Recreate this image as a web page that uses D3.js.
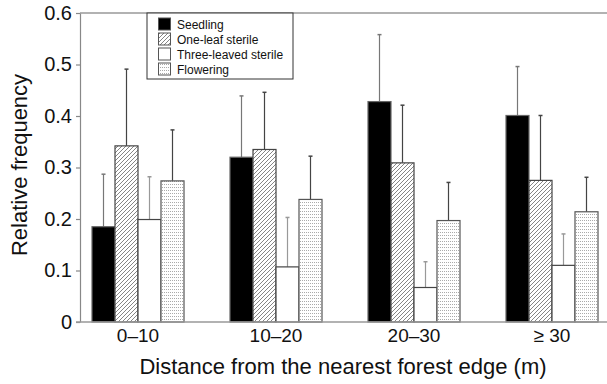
<!DOCTYPE html>
<html><head><meta charset="utf-8">
<script src="https://cdn.jsdelivr.net/npm/d3@7"></script>
<style>body{margin:0;background:#fff}svg{display:block;font-family:"Liberation Sans",Arial,sans-serif}</style>
</head><body>
<svg id="c" width="607" height="384"></svg>
<script>
const categories = ["0–10", "10–20", "20–30", "≥ 30"];
const seriesNames = ["Seedling", "One-leaf sterile", "Three-leaved sterile", "Flowering"];
const seedling = [0.185, 0.320, 0.428, 0.401];
const seedlingErr = [0.287, 0.439, 0.558, 0.496];
const oneLeaf = [0.342, 0.335, 0.309, 0.275];
const oneLeafErr = [0.491, 0.446, 0.421, 0.401];
const threeLeaved = [0.199, 0.107, 0.067, 0.110];
const threeLeavedErr = [0.282, 0.203, 0.117, 0.171];
const flowering = [0.274, 0.238, 0.197, 0.214];
const floweringErr = [0.373, 0.322, 0.271, 0.281];
const yTicks = [0, 0.1, 0.2, 0.3, 0.4, 0.5, 0.6];

const values = [seedling, oneLeaf, threeLeaved, flowering];
const errs = [seedlingErr, oneLeafErr, threeLeavedErr, floweringErr];

const svg = d3.select("#c");
const defs = svg.append("defs");
const hatch = defs.append("pattern").attr("id","hatch").attr("patternUnits","userSpaceOnUse")
  .attr("width",4).attr("height",4);
hatch.append("rect").attr("width",4).attr("height",4).attr("fill","#fff");
hatch.append("path").attr("d","M-1,1 l2,-2 M0,4 l4,-4 M3,5 l2,-2").attr("stroke","#666").attr("stroke-width",0.8);
const dots = defs.append("pattern").attr("id","dots").attr("patternUnits","userSpaceOnUse")
  .attr("width",2).attr("height",3);
dots.append("rect").attr("width",2).attr("height",3).attr("fill","#fff");
dots.append("rect").attr("x",0).attr("y",1).attr("width",1).attr("height",1).attr("fill","#aaa");

const fills = ["#000", "url(#hatch)", "#fff", "url(#dots)"];
const strokes = ["#666", "#444", "#444", "#555"];
const errColors = ["#777", "#444", "#999", "#444"];

const y = d3.scaleLinear().domain([0, 0.6]).range([322, 13]);
const x0 = d3.scaleBand().domain(categories).range([69, 621]).paddingInner(1/3).paddingOuter(1/6);
const x1 = d3.scaleBand().domain(d3.range(4)).range([0, x0.bandwidth()]);

svg.append("line").attr("x1",80).attr("x2",607).attr("y1",y(0.6)).attr("y2",y(0.6)).attr("stroke","#999").attr("stroke-width",1.5);

const data = [];
categories.forEach((c,i)=>values.forEach((v,s)=>data.push({c, s, v:v[i], e:errs[s][i]})));

const g = svg.append("g");
g.selectAll("line.err").data(data).join("line")
  .attr("x1", d=>x0(d.c)+x1(d.s)+x1.bandwidth()/2).attr("x2", d=>x0(d.c)+x1(d.s)+x1.bandwidth()/2)
  .attr("y1", d=>y(d.v)).attr("y2", d=>y(d.e)).attr("stroke", d=>errColors[d.s]).attr("stroke-width",1.2);
g.selectAll("line.cap").data(data).join("line")
  .attr("x1", d=>x0(d.c)+x1(d.s)+x1.bandwidth()/2-2).attr("x2", d=>x0(d.c)+x1(d.s)+x1.bandwidth()/2+2)
  .attr("y1", d=>y(d.e)).attr("y2", d=>y(d.e)).attr("stroke", d=>errColors[d.s]).attr("stroke-width",1.5);
g.selectAll("rect.bar").data(data).join("rect")
  .attr("x", d=>x0(d.c)+x1(d.s)).attr("width", x1.bandwidth())
  .attr("y", d=>y(d.v)).attr("height", d=>y(0)-y(d.v))
  .attr("fill", d=>fills[d.s]).attr("stroke", d=>strokes[d.s]).attr("stroke-width",1.2);

const ya = svg.append("g").attr("transform","translate(80,0)")
  .call(d3.axisLeft(y).tickValues(yTicks).tickSize(4).tickPadding(4).tickSizeOuter(0)
    .tickFormat(d=>d===0?"0":d3.format(".1f")(d)));
ya.selectAll("path,line").attr("stroke","#888").attr("stroke-width",1.2);
ya.selectAll("text").attr("font-size",20).attr("fill","#111").attr("font-family","Liberation Sans, Arial, sans-serif");

svg.append("line").attr("x1",76).attr("x2",607).attr("y1",y(0)).attr("y2",y(0)).attr("stroke","#999").attr("stroke-width",1.5);
const xa = svg.append("g").attr("transform",`translate(0,${y(0)})`)
  .call(d3.axisBottom(x0).tickSize(0).tickPadding(7));
xa.select("path").remove();
xa.selectAll("text").attr("font-size",19).attr("fill","#111").attr("font-family","Liberation Sans, Arial, sans-serif");

svg.append("text").attr("x",343).attr("y",374).attr("text-anchor","middle")
  .attr("font-size",22).attr("fill","#111").text("Distance from the nearest forest edge (m)");
svg.append("text").attr("transform","translate(27,165) rotate(-90)").attr("text-anchor","middle")
  .attr("font-size",22).attr("fill","#111").text("Relative frequency");

const lg = svg.append("g");
lg.append("rect").attr("x",147).attr("y",13).attr("width",146).attr("height",66)
  .attr("fill","#fff").attr("stroke","#333").attr("stroke-width",1);
const rows = lg.selectAll("g.row").data(seriesNames).join("g")
  .attr("transform",(d,i)=>`translate(158,${24+i*15})`);
rows.append("rect").attr("x",0.5).attr("y",-6).attr("width",12).attr("height",12)
  .attr("fill",(d,i)=>fills[i]).attr("stroke","#555").attr("stroke-width",1);
rows.append("text").attr("x",19).attr("y",4.5).attr("font-size",12).attr("fill","#111").text(d=>d);
</script>
</body></html>
